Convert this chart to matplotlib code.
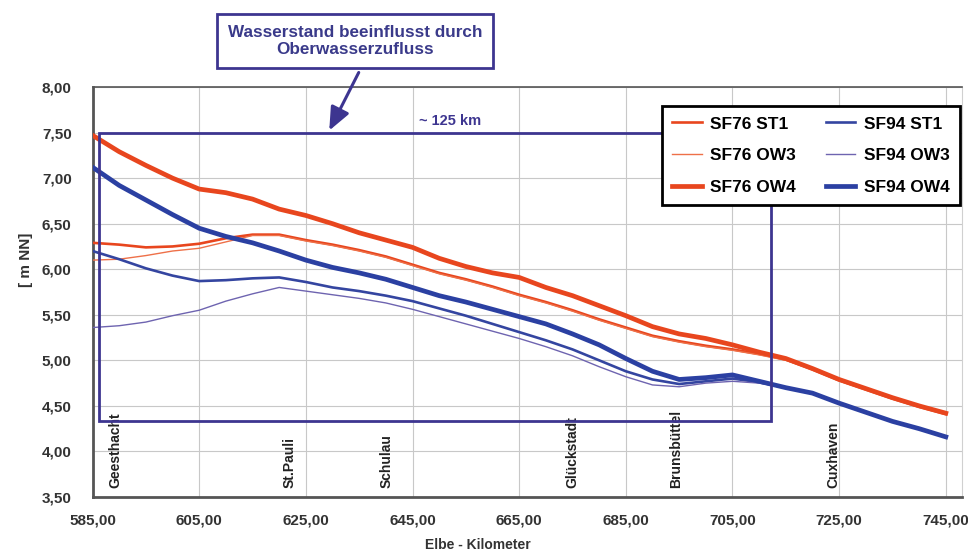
import matplotlib
matplotlib.use("Agg")
import matplotlib.pyplot as plt
from matplotlib.patches import Rectangle, FancyArrowPatch
from matplotlib.ticker import FuncFormatter, MultipleLocator

plt.rcParams['font.family'] = ['Liberation Sans', 'DejaVu Sans']

km = [585, 590, 595, 600, 605, 610, 615, 620, 625, 630, 635, 640, 645, 650, 655,
      660, 665, 670, 675, 680, 685, 690, 695, 700, 705, 710, 715, 720, 725, 730,
      735, 740, 745]

sf76_ow4 = [7.47, 7.29, 7.14, 7.00, 6.88, 6.84, 6.77, 6.66, 6.59, 6.50, 6.40, 6.32,
            6.24, 6.12, 6.03, 5.96, 5.91, 5.80, 5.71, 5.60, 5.49, 5.37, 5.29, 5.24,
            5.17, 5.09, 5.02, 4.91, 4.79, 4.69, 4.59, 4.50, 4.42]
sf76_st1 = [6.29, 6.27, 6.24, 6.25, 6.28, 6.34, 6.38, 6.38, 6.32, 6.27, 6.21, 6.14,
            6.05, 5.96, 5.89, 5.81, 5.72, 5.64, 5.55, 5.45, 5.36, 5.27, 5.21, 5.16,
            5.12, 5.07, 5.01, 4.90, 4.78, 4.68, 4.58, 4.49, 4.41]
sf76_ow3 = [6.10, 6.11, 6.15, 6.20, 6.23, 6.30, 6.37, 6.37, 6.31, 6.26, 6.20, 6.13,
            6.04, 5.95, 5.88, 5.80, 5.71, 5.63, 5.54, 5.44, 5.35, 5.26, 5.20, 5.15,
            5.11, 5.06, 5.00, 4.90, 4.78, 4.68, 4.58, 4.49, 4.41]
sf94_ow4 = [7.12, 6.92, 6.76, 6.60, 6.45, 6.36, 6.29, 6.20, 6.10, 6.02, 5.96, 5.89,
            5.80, 5.71, 5.64, 5.56, 5.48, 5.40, 5.29, 5.17, 5.02, 4.88, 4.79, 4.81,
            4.84, 4.77, 4.70, 4.64, 4.53, 4.43, 4.33, 4.25, 4.16]
sf94_st1 = [6.20, 6.11, 6.01, 5.93, 5.87, 5.88, 5.90, 5.91, 5.86, 5.80, 5.76, 5.71,
            5.65, 5.57, 5.49, 5.40, 5.31, 5.22, 5.12, 5.00, 4.88, 4.79, 4.74, 4.77,
            4.80, 4.76, 4.70, 4.64, 4.53, 4.43, 4.33, 4.25, 4.16]
sf94_ow3 = [5.36, 5.38, 5.42, 5.49, 5.55, 5.65, 5.73, 5.80, 5.76, 5.72, 5.68, 5.63,
            5.56, 5.48, 5.40, 5.32, 5.24, 5.15, 5.05, 4.93, 4.82, 4.73, 4.71, 4.75,
            4.77, 4.75, 4.70, 4.64, 4.53, 4.43, 4.33, 4.25, 4.16]

x_ticks = [585, 605, 625, 645, 665, 685, 705, 725, 745]

places = ["Geesthacht", "St.Pauli", "Schulau", "Glückstadt", "Brunsbüttel", "Cuxhaven"]
place_km = [589.2, 622.0, 640.1, 675.0, 694.4, 723.9]

box_km = (586.2, 712.3)
box_level = (4.33, 7.50)

RED = "#E8461E"
RED_THIN = "#EE7048"
BLUE = "#2B40A2"
BLUE_MED = "#3445A0"
PURPLE = "#6E64B0"
FRAME = "#3D3590"

fig = plt.figure(figsize=(9.68, 5.55), dpi=100)
ax = fig.add_axes([0.0956, 0.1045, 0.898, 0.7387])

ax.plot(km, sf76_st1, color=RED, lw=1.9, label="SF76 ST1", zorder=3)
ax.plot(km, sf76_ow3, color=RED_THIN, lw=1.0, label="SF76 OW3", zorder=3)
ax.plot(km, sf76_ow4, color=RED, lw=3.4, label="SF76 OW4", zorder=3)
ax.plot(km, sf94_st1, color=BLUE_MED, lw=1.9, label="SF94 ST1", zorder=3)
ax.plot(km, sf94_ow3, color=PURPLE, lw=1.0, label="SF94 OW3", zorder=3)
ax.plot(km, sf94_ow4, color=BLUE, lw=3.4, label="SF94 OW4", zorder=3)

ax.set_xlim(585, 748)
ax.set_ylim(3.5, 8.0)
ax.set_xticks(x_ticks)
ax.yaxis.set_major_locator(MultipleLocator(0.5))
fmt = FuncFormatter(lambda v, p: f"{v:.2f}".replace(".", ","))
ax.xaxis.set_major_formatter(fmt)
ax.yaxis.set_major_formatter(fmt)
ax.tick_params(length=0, labelsize=11, colors="#333333")
ax.tick_params(axis="y", pad=15)
ax.tick_params(axis="x", pad=12)
for lab in ax.get_xticklabels() + ax.get_yticklabels():
    lab.set_fontweight("bold")
ax.grid(True, color="#C8C8C8", lw=0.8)
ax.set_axisbelow(True)
for s in ["left", "bottom"]:
    ax.spines[s].set_color("#555555")
    ax.spines[s].set_linewidth(2.0)
ax.spines["top"].set_color("#555555")
ax.spines["top"].set_linewidth(1.2)
ax.spines["right"].set_color("#D0D0D0")
ax.spines["right"].set_linewidth(0.8)

ax.set_ylabel("[ m NN]", fontsize=11, fontweight="bold", color="#333333")
ax.yaxis.set_label_coords(-0.068, 0.578)
ax.set_xlabel("Elbe - Kilometer", fontsize=10, fontweight="bold", color="#333333")
ax.xaxis.set_label_coords(0.443, -0.100)

for name, k in zip(places, place_km):
    ax.text(k, 3.60, name, rotation=90, ha="center", va="bottom",
            fontsize=10, fontweight="bold", color="#222222", zorder=4)

rect = Rectangle((box_km[0], box_level[0]), box_km[1] - box_km[0],
                 box_level[1] - box_level[0], fill=False, edgecolor=FRAME,
                 lw=2.0, zorder=5)
ax.add_patch(rect)

leg = ax.legend(ncol=2, loc="upper right", bbox_to_anchor=(960 / 968, 1 - 106 / 555),
                bbox_transform=fig.transFigure, frameon=True,
                fancybox=False, edgecolor="black", framealpha=1.0,
                prop={"weight": "bold", "size": 12.5}, handlelength=1.7,
                handletextpad=0.5, columnspacing=1.7, labelspacing=0.95,
                borderpad=0.6, borderaxespad=0)
leg.get_frame().set_linewidth(2.0)
leg.set_zorder(10)

fig.text(450 / 968, 1 - 121 / 555, "~ 125 km", ha="center", va="center",
         fontsize=10.5, fontweight="bold", color=FRAME)

fig.text(355 / 968, 1 - 41 / 555, "Wasserstand beeinflusst durch\nOberwasserzufluss",
         ha="center", va="center", fontsize=12.3, fontweight="bold", color="#3A3A8A",
         linespacing=1.2,
         bbox=dict(boxstyle="square,pad=0.62", facecolor="white", edgecolor=FRAME, lw=2.0))

fig.add_artist(FancyArrowPatch(
    (360 / 968, 1 - 70 / 555), (328 / 968, 1 - 133 / 555),
    transform=fig.transFigure, arrowstyle="-|>,head_length=14,head_width=6",
    color=FRAME, lw=2.2, mutation_scale=1))

fig.savefig("out.png", dpi=100, facecolor="white")
